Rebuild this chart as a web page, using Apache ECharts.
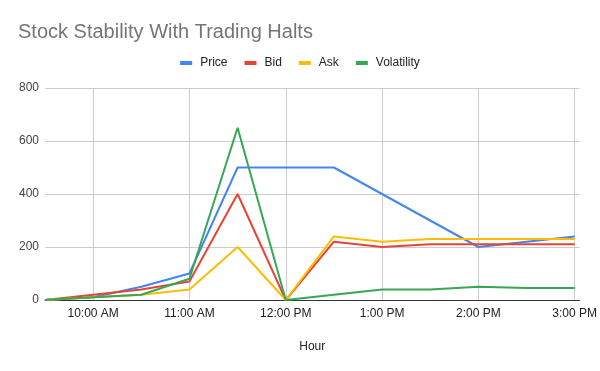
<!DOCTYPE html>
<html>
<head>
<meta charset="utf-8">
<script src="https://cdn.jsdelivr.net/npm/echarts@6/dist/echarts.min.js"></script>
<style>html,body{margin:0;padding:0;background:#fff;}#c{width:600px;height:371px;}</style>
</head>
<body>
<div id="c"></div>
<script>
const hours = ['9:30','10:00','10:30','11:00','11:30','12:00','12:30','13:00','13:30','14:00','14:30','15:00'];
const price = [0, 10, 50, 100, 500, 500, 500, 400, 300, 200, 220, 240];
const bid = [0, 20, 40, 70, 400, 0, 220, 200, 210, 210, 210, 210];
const ask = [0, 10, 20, 40, 200, 0, 240, 220, 230, 230, 230, 230];
const volatility = [0, 10, 20, 80, 650, 0, 20, 40, 40, 50, 45, 45];
const yTicks = [0, 200, 400, 600, 800];

function toMin(s){ const p = s.split(':'); return (+p[0])*60 + (+p[1]); }
function fmt(v){
  const h = Math.floor(v/60), m = v%60;
  const ap = h >= 12 ? 'PM' : 'AM';
  const hh = h > 12 ? h-12 : h;
  return hh + ':' + (m<10?'0':'') + m + ' ' + ap;
}
const xs = hours.map(toMin);
function pairs(arr){ return arr.map((v,i)=>[xs[i], v]); }

const chart = echarts.init(document.getElementById('c'), null, {renderer:'canvas'});
const font = '"Liberation Sans", Arial, sans-serif';
const mk = (name, data, color) => ({
  name, type:'line', data: pairs(data), showSymbol:false, symbol:'none',
  lineStyle:{width:2, color}, itemStyle:{color}, animation:false
});
chart.setOption({
  animation:false,
  textStyle:{fontFamily:font},
  title:{text:'Stock Stability With Trading Halts', left:13, top:17,
     textStyle:{fontFamily:font, fontSize:20, fontWeight:'normal', color:'#757575'}},
  legend:{
    top:52, left:'center', itemWidth:12, itemHeight:4, itemGap:17,
    icon:'rect',
    textStyle:{fontFamily:font, fontSize:12, color:'#222', padding:[0,0,0,3]},
    data:['Price','Bid','Ask','Volatility']
  },
  grid:{left:45, right:18, top:88, bottom:71, containLabel:false},
  xAxis:{
    type:'value', min:toMin('9:30'), max:903,
    minInterval:60, maxInterval:60,
    name:'Hour', nameLocation:'middle', nameGap:41,
    nameTextStyle:{fontFamily:font, fontSize:12, color:'#222'},
    axisLine:{show:true, lineStyle:{color:'#333', width:1}},
    axisTick:{show:false},
    axisLabel:{formatter:v=>fmt(v), fontFamily:font, fontSize:12, color:'#222', margin:8,
      showMinLabel:false, showMaxLabel:false},
    splitLine:{show:true, showMinLine:false, showMaxLine:false, lineStyle:{color:'#cccccc', width:1}}
  },
  yAxis:{
    type:'value', min:yTicks[0], max:yTicks[yTicks.length-1], interval:200,
    axisLine:{show:false}, axisTick:{show:false},
    axisLabel:{fontFamily:font, fontSize:12, color:'#444', margin:6},
    splitLine:{show:true, lineStyle:{color:'#cccccc', width:1}}
  },
  series:[
    mk('Price', price, '#4285F4'),
    mk('Bid', bid, '#EA4335'),
    mk('Ask', ask, '#FBBC04'),
    mk('Volatility', volatility, '#34A853')
  ]
});
</script>
</body>
</html>
